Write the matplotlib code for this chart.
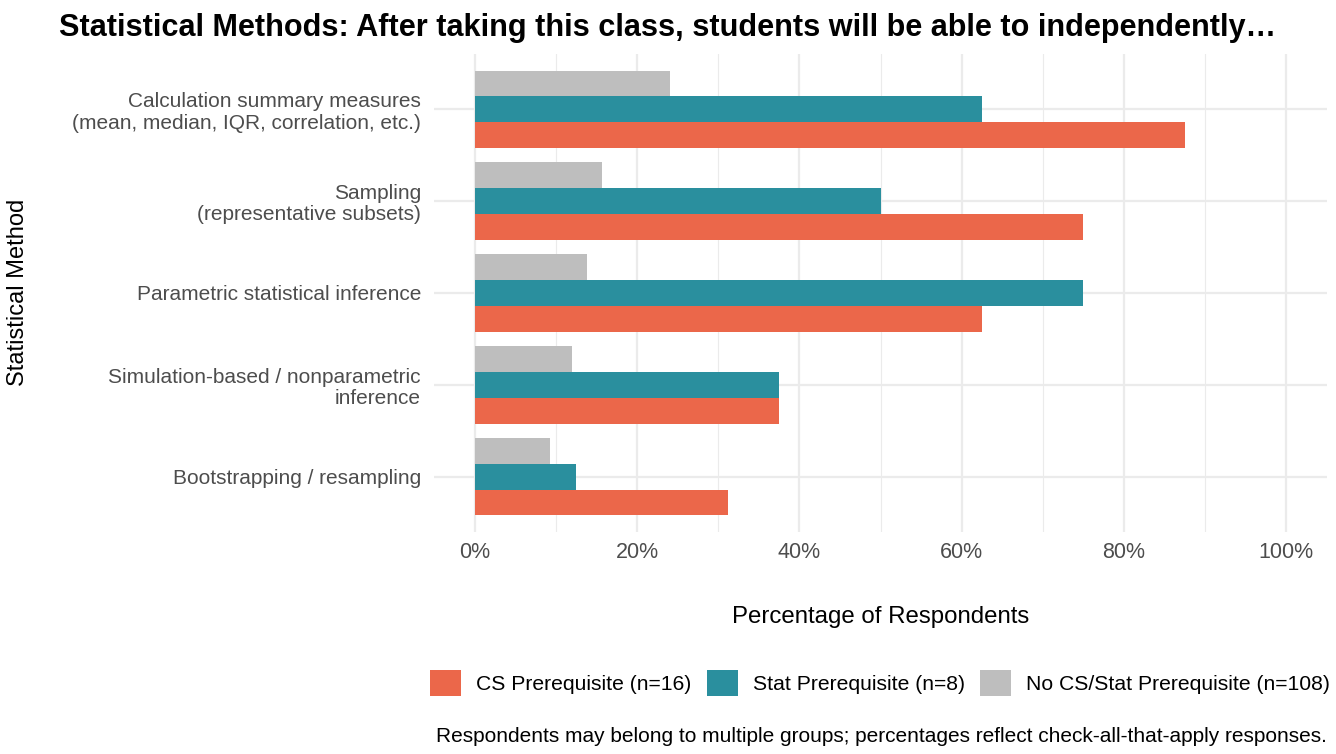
import matplotlib
matplotlib.use("Agg")
import matplotlib.pyplot as plt
from matplotlib.patches import Patch
import numpy as np

plt.rcParams['font.family'] = ['Liberation Sans', 'DejaVu Sans']

# Categories from bottom to top
categories = [
    "Bootstrapping / resampling",
    "Simulation-based / nonparametric\ninference",
    "Parametric statistical inference",
    "Sampling\n(representative subsets)",
    "Calculation summary measures\n(mean, median, IQR, correlation, etc.)",
]
cs_prereq = [31.25, 37.5, 62.5, 75.0, 87.5]
stat_prereq = [12.5, 37.5, 75.0, 50.0, 62.5]
no_prereq = [9.26, 12.04, 13.89, 15.74, 24.07]

series_labels = ["CS Prerequisite (n=16)", "Stat Prerequisite (n=8)",
                 "No CS/Stat Prerequisite (n=108)"]
colors = ["#EB674A", "#2A8F9E", "#BEBEBE"]
x_ticks = [0, 20, 40, 60, 80, 100]
x_tick_labels = ["0%", "20%", "40%", "60%", "80%", "100%"]

W, H = 1336, 754
fig = plt.figure(figsize=(W / 100, H / 100), dpi=100)
ax = fig.add_axes([434 / W, (H - 532) / H, (1327 - 434) / W, (532 - 54) / H])

y = np.arange(len(categories))
bw = 0.28
ax.barh(y - bw, cs_prereq, height=bw, color=colors[0], zorder=3)
ax.barh(y, stat_prereq, height=bw, color=colors[1], zorder=3)
ax.barh(y + bw, no_prereq, height=bw, color=colors[2], zorder=3)

ax.set_xlim(-5, 105)
ax.set_ylim(-0.6, len(categories) - 1 + 0.6)
ax.set_xticks(x_ticks)
ax.set_xticklabels(x_tick_labels)
ax.set_xticks([10, 30, 50, 70, 90], minor=True)
ax.set_yticks(y)
ax.set_yticklabels(categories, ha="right", linespacing=1.16)

ax.grid(which="major", axis="both", color="#EBEBEB", linewidth=1.6, zorder=0)
ax.grid(which="minor", axis="x", color="#EBEBEB", linewidth=0.8, zorder=0)
for s in ax.spines.values():
    s.set_visible(False)
ax.tick_params(which="both", length=0)
ax.tick_params(axis="y", pad=9.4, labelsize=15, labelcolor="#4D4D4D")
ax.tick_params(axis="x", pad=7.5, labelsize=15.5, labelcolor="#4D4D4D")

ax.set_xlabel("Percentage of Respondents", fontsize=17.3, labelpad=31)
fig.text(18 / W, 1 - 292 / H, "Statistical Method", rotation=90,
         fontsize=17, ha="center", va="center")

fig.text(0.5, 1 - 28 / H,
         "Statistical Methods: After taking this class, students will be able to independently\u2026",
         fontsize=22.1, fontweight="bold", ha="center", va="center")

handles = [Patch(facecolor=c, edgecolor="none") for c in colors]
fig.legend(handles, series_labels, loc="center",
           bbox_to_anchor=(880 / W, 1 - 683 / H), ncol=3, frameon=False,
           fontsize=15.2, handlelength=1.47, handleheight=1.47,
           handletextpad=0.71, columnspacing=0.71, borderpad=0, borderaxespad=0)

fig.text(1327 / W, 1 - 742 / H,
         "Respondents may belong to multiple groups; percentages reflect check-all-that-apply responses.",
         fontsize=15, ha="right", va="baseline")

fig.savefig("out.png", dpi=100)
